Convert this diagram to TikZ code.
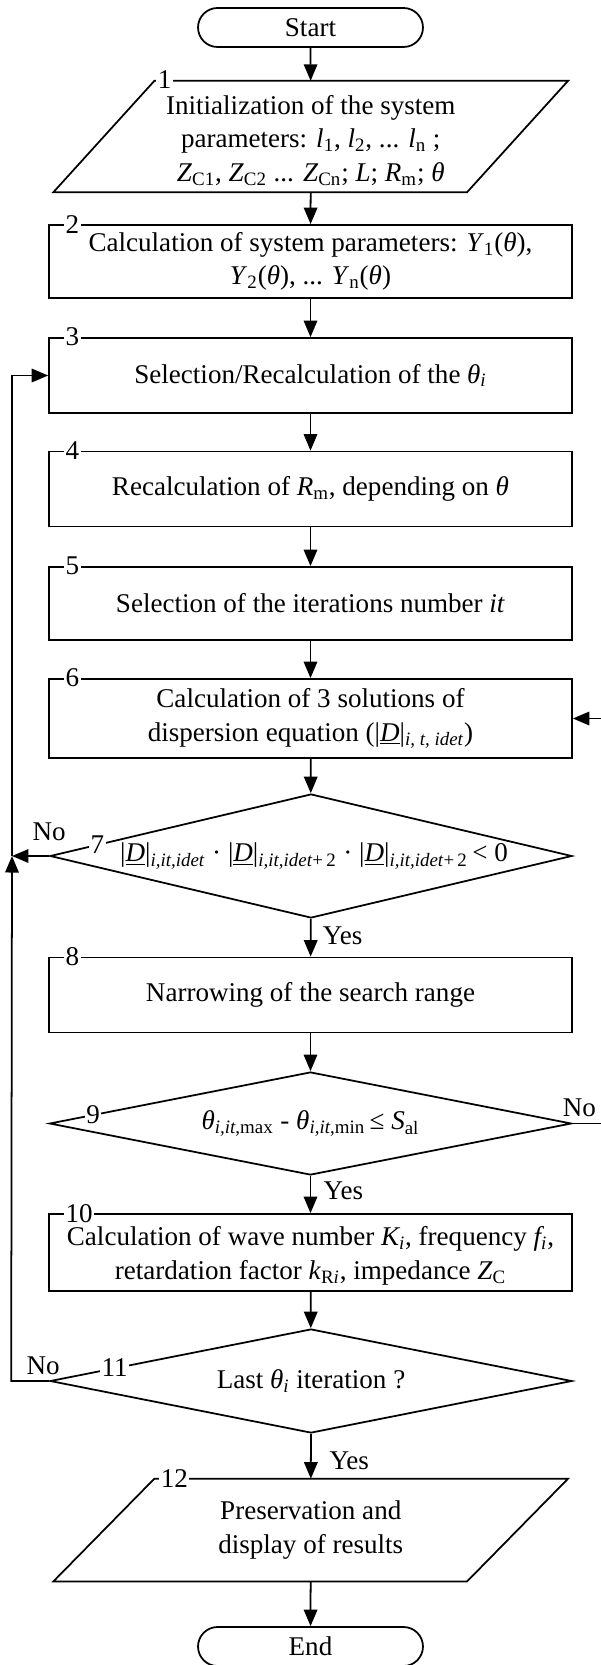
\documentclass[tikz,border=0pt]{standalone}
\usepackage{fontspec}
\setmainfont{Liberation Serif}
\usetikzlibrary{arrows.meta,shapes.geometric,calc}

\newcommand{\sbs}[1]{\textsubscript{#1}}

\begin{document}
\begin{tikzpicture}[x=0.02cm, y=-0.02cm, line width=1pt,
    font=\fontsize{15.4}{19}\selectfont,
    term/.style={rectangle, draw, rounded corners=0.39cm, minimum width=4.5cm, minimum height=0.78cm},
    proc/.style={rectangle, draw, align=center, minimum width=10.46cm, minimum height=1.5cm},
    iobox/.style={rectangle, align=center, minimum width=8.24cm, minimum height=2.02cm},
    dec/.style={diamond, draw, inner sep=0pt, minimum width=10.44cm},
    stepno/.style={fill=white, inner xsep=0.03cm, inner ysep=0.04cm},
    arr/.style={-{Triangle[length=0.33cm, width=0.27cm]}}]

    \useasboundingbox (0,0) rectangle (601,1665);
    \clip (0,0) rectangle (601,1665);

    % Blocks of the algorithm, top to bottom
    \node[term] (start) at (310.5,27.5) {Start};
    \node[iobox] (p1) at (310.75,136.5) {\rule{0pt}{0.54cm}Initialization of the system\\
        parameters: \textit{l}\sbs{1}, \textit{l}\sbs{2}, ... \textit{l}\sbs{n} ;\\
        \textit{Z}\sbs{C1}, \textit{Z}\sbs{C2} ... \textit{Z}\sbs{Cn}; \textit{L}; \textit{R}\sbs{m}; \textit{θ}};
    \node[proc, minimum height=1.46cm] (b2) at (310.5,261.5) {Calculation of system parameters: \textit{Y}\sbs{1}(\textit{θ}),\\
        \textit{Y}\sbs{2}(\textit{θ}), ... \textit{Y}\sbs{n}(\textit{θ})};
    \node[proc] (b3) at (310.5,375.5) {Selection/Recalculation of the \textit{θ\sbs{i}}};
    \node[proc] (b4) at (310.5,489) {Recalculation of \textit{R}\sbs{m}, depending on \textit{θ}};
    \node[proc, minimum height=1.46cm] (b5) at (310.5,603.5) {Selection of the iterations number \textit{it}};
    \node[proc, minimum height=1.58cm] (b6) at (310.5,718.5) {Calculation of 3 solutions of\\
        dispersion equation (|\underline{\textit{D}}|\sbs{\textit{i, t, idet}})};
    \node[dec, minimum height=2.48cm] (d7) at (311,856) {};
    \node (t7) at ([xshift=0.06cm]d7) {|\underline{\textit{D}}|\sbs{\textit{i,it,idet}} · |\underline{\textit{D}}|\sbs{\textit{i,it,idet}+\,2} · |\underline{\textit{D}}|\sbs{\textit{i,it,idet}+\,2}\,<~0};
    \node[proc] (b8) at (310.5,995) {Narrowing of the search range};
    \node[dec, minimum height=2.06cm] (d9) at (310.5,1123.5) {};
    \node (t9) at (d9) {\textit{θ}\sbs{\textit{i,it},max} - \textit{θ}\sbs{\textit{i,it},min}\,≤~\textit{S}\sbs{al}};
    \node[proc, minimum height=1.54cm] (b10) at (310.5,1252.5) {\rule{0pt}{0.52cm}Calculation of wave number \textit{K\sbs{i}}, frequency \textit{f\sbs{i}},\\
        retardation factor \textit{k}\sbs{R\textit{i}}, impedance \textit{Z}\sbs{C}};
    \node[dec, minimum height=2.08cm] (d11) at (311,1381) {};
    \node (t11) at (d11) {Last \textit{θ\sbs{i}} iteration ?};
    \node[iobox] (p12) at (310.75,1530) {Preservation and\\display of results};
    \node[term] (end) at (310.5,1646.5) {End};

    % slanted outlines of the input/output blocks
    \foreach \p in {p1,p12}
        \draw ([xshift=-1.01cm]\p.south west) -- ([xshift=1.01cm]\p.north west)
            -- ([xshift=1.01cm]\p.north east) -- ([xshift=-1.01cm]\p.south east) -- cycle;

    \coordinate (merge) at (12,856);
    \coordinate (rloop) at (615,1123.5);

    % Main flow
    \draw[arr] (start) -- (p1);
    \draw[arr] (p1) -- (b2);
    \draw[arr] (b2) -- (b3);
    \draw[arr] (b3) -- (b4);
    \draw[arr] (b4) -- (b5);
    \draw[arr] (b5) -- (b6);
    \draw[arr] (b6) -- (d7);
    \draw[arr] (d7) -- node[right, pos=0.45, xshift=0.11cm] {Yes} (b8);
    \draw[arr] (b8) -- (d9);
    \draw[arr] (d9) -- node[right, pos=0.41, xshift=0.13cm] {Yes} (b10);
    \draw[arr] (b10) -- (d11);
    \draw[arr] (d11) -- node[right, pos=0.6, xshift=0.24cm] {Yes} (p12);
    \draw[arr] (p12) -- (end);

    % Loops back
    \draw[arr] (d7.west) -- node[above, pos=0, yshift=0.18cm] {No} (merge);
    \draw[arr] (d11.west) -- node[above, pos=0, xshift=-0.12cm] {No} ++(-38,0) -- (merge);
    \draw[arr] (merge) |- (b3.west);
    \draw[arr] (d9.east) -- node[above, pos=0, xshift=0.14cm] {No} (rloop) |- (b6.east);

    % Step numbers
    \node[stepno, anchor=west] at ([xshift=1.03cm, yshift=0.03cm]p1.north west) {1};
    \foreach \b/\n in {b2/2, b3/3, b4/4, b5/5, b6/6, b8/8, b10/10}
        \node[stepno, anchor=west] at ([xshift=0.3cm]\b.north west) {\n};
    \node[stepno] at ($(d7.west)!0.184!(d7.north)$) {7};
    \node[stepno] at ($(d9.west)!0.17!(d9.north)$) {9};
    \node[stepno] at ($(d11.west)!0.25!(d11.north)$) {11};
    \node[stepno, anchor=west] at ([xshift=1.09cm]p12.north west) {12};
\end{tikzpicture}
\end{document}
